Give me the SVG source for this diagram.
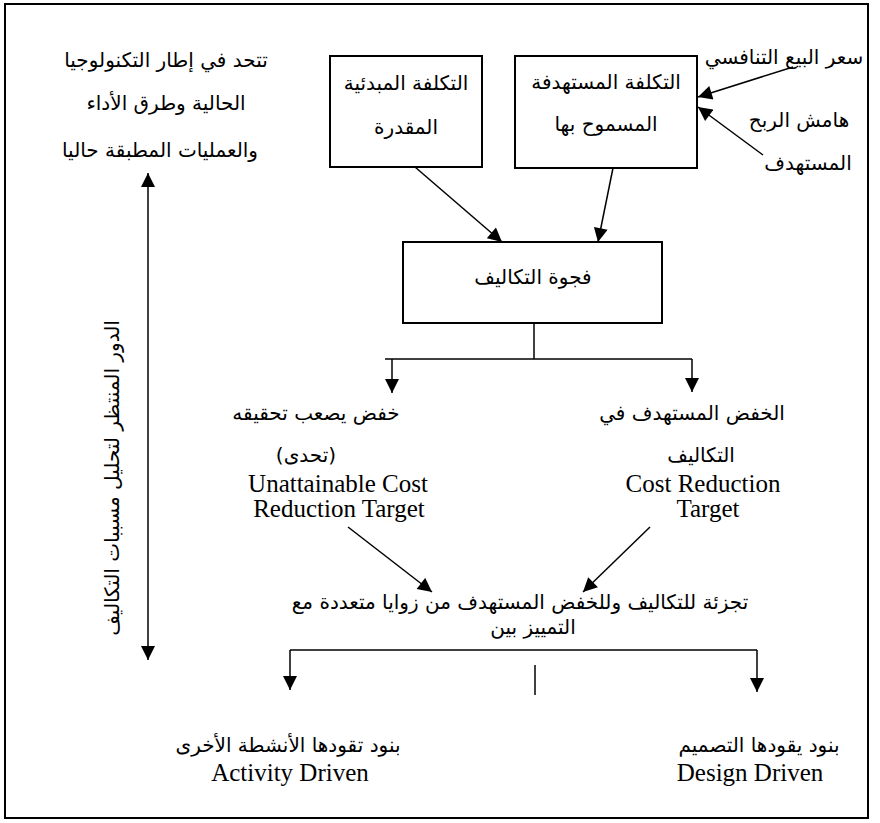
<svg xmlns="http://www.w3.org/2000/svg" width="880" height="823" viewBox="0 0 880 823">
<style>
.ar{font-family:"DejaVu Sans",sans-serif;font-size:20px;fill:#000;text-anchor:middle;dominant-baseline:central}
.en{font-family:"Liberation Serif",serif;font-size:25px;fill:#000;text-anchor:middle;dominant-baseline:central}
.box{fill:#fff;stroke:#000;stroke-width:2}
.ln{fill:none;stroke:#000;stroke-width:1.5}
.ar-end{marker-end:url(#ah)}
</style>
<defs>
<marker id="ah" viewBox="0 0 10 10" refX="10" refY="5" markerWidth="15" markerHeight="14" markerUnits="userSpaceOnUse" orient="auto-start-reverse">
<path d="M0,0 L10,5 L0,10 z" fill="#000"/>
</marker>
</defs>
<rect x="0" y="0" width="880" height="823" fill="#fff"/>
<rect id="frame" x="5" y="4" width="863" height="814" fill="none" stroke="#000" stroke-width="2"/>

<g id="connectors">
<line class="ln ar-end" x1="415" y1="167" x2="502" y2="242"/>
<line class="ln ar-end" x1="613" y1="168" x2="598" y2="242"/>
<line class="ln ar-end" x1="793" y1="67" x2="698" y2="97"/>
<line class="ln ar-end" x1="763" y1="155" x2="698" y2="107"/>
<line class="ln" x1="534" y1="323" x2="534" y2="359"/>
<line class="ln" x1="385" y1="359" x2="692" y2="359"/>
<line class="ln ar-end" x1="692" y1="359" x2="692" y2="392"/>
<line class="ln ar-end" x1="392" y1="359" x2="392" y2="393"/>
<line class="ln ar-end" x1="650" y1="527" x2="583" y2="592"/>
<line class="ln ar-end" x1="348" y1="527" x2="432" y2="592"/>
<line class="ln" x1="290" y1="650" x2="757" y2="650"/>
<line class="ln ar-end" x1="290" y1="650" x2="290" y2="690"/>
<line class="ln ar-end" x1="757" y1="650" x2="757" y2="692"/>
<line class="ln" x1="535" y1="665" x2="535" y2="695"/>
<line class="ln" x1="148" y1="173" x2="148" y2="660" style="marker-start:url(#ah);marker-end:url(#ah)"/>
</g>

<g id="context">
<text class="ar" x="166" y="60">تتحد في إطار التكنولوجيا</text>
<text class="ar" x="166" y="103">الحالية وطرق الأداء</text>
<text class="ar" x="160" y="150">والعمليات المطبقة حاليا</text>
</g>

<g id="role">
<text class="ar" transform="translate(112,478) rotate(-90)" x="0" y="0">الدور  المنتظر لتحليل مسببات التكاليف</text>
</g>

<g id="initial-cost">
<rect class="box" x="330" y="56" width="152" height="111"/>
<text class="ar" x="406" y="83">التكلفة المبدئية</text>
<text class="ar" x="406" y="127">المقدرة</text>
</g>

<g id="target-cost">
<rect class="box" x="515" y="56" width="182" height="112"/>
<text class="ar" x="606" y="82">التكلفة المستهدفة</text>
<text class="ar" x="606" y="124">المسموح بها</text>
</g>

<g id="price">
<text class="ar" x="784" y="57">سعر البيع التنافسي</text>
</g>

<g id="margin">
<text class="ar" x="799" y="120">هامش الربح</text>
<text class="ar" x="808" y="163">المستهدف</text>
</g>

<g id="gap">
<rect class="box" x="403" y="242" width="259" height="81"/>
<text class="ar" x="533" y="277">فجوة التكاليف</text>
</g>

<g id="unattainable">
<text class="ar" x="316" y="413">خفض يصعب تحقيقه</text>
<text class="ar" x="306" y="455">(تحدى)</text>
<text class="en" x="338" y="483">Unattainable Cost</text>
<text class="en" x="339" y="508">Reduction Target</text>
</g>

<g id="reduction">
<text class="ar" x="692" y="413">الخفض المستهدف في</text>
<text class="ar" x="701" y="455">التكاليف</text>
<text class="en" x="703" y="483">Cost Reduction</text>
<text class="en" x="708" y="508">Target</text>
</g>

<g id="decomposition">
<text class="ar" x="520" y="602">تجزئة للتكاليف وللخفض المستهدف من زوايا متعددة مع</text>
<text class="ar" x="533" y="627">التمييز بين</text>
</g>

<g id="activity">
<text class="ar" x="288" y="745">بنود تقودها الأنشطة الأخرى</text>
<text class="en" x="290" y="772">Activity Driven</text>
</g>

<g id="design">
<text class="ar" x="759" y="745">بنود يقودها التصميم</text>
<text class="en" x="750" y="772">Design Driven</text>
</g>
</svg>
